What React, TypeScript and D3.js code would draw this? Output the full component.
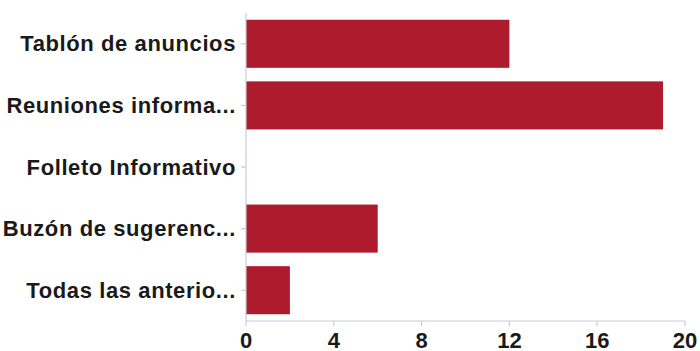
import React from "react";
import * as d3 from "d3";

const categories = [
  "Tablón de anuncios",
  "Reuniones informa...",
  "Folleto Informativo",
  "Buzón de sugerenc...",
  "Todas las anterio...",
];
const values = [12, 19, 0, 6, 2];
const xTicks = [0, 4, 8, 12, 16, 20];

const W = 700;
const H = 351;
const margin = { left: 246, right: 15, top: 13, bottom: 30 };
const barColor = "#ae1b2c";
const axisColor = "#c9c9dc";
const font = "'Liberation Sans', Arial, Helvetica, sans-serif";

export default function App() {
  const x = d3
    .scaleLinear()
    .domain([0, 20])
    .range([margin.left, W - margin.right]);
  const y = d3
    .scaleBand<string>()
    .domain(categories)
    .range([margin.top, H - margin.bottom])
    .paddingInner(0.22)
    .paddingOuter(0.11);
  const axisY = H - margin.bottom;

  return (
    <svg
      width={W}
      height={H}
      style={{ position: "absolute", left: 0, top: 0, background: "#fff" }}
    >
      {categories.map((c, i) => (
        <rect
          key={c}
          x={x(0)}
          y={y(c)!}
          width={x(values[i]) - x(0)}
          height={y.bandwidth()}
          fill={barColor}
        />
      ))}
      {/* y axis */}
      <line x1={x(0)} x2={x(0)} y1={margin.top} y2={axisY} stroke={axisColor} strokeWidth={1.2} />
      {categories.map((c) => {
        const cy = y(c)! + y.bandwidth() / 2;
        return (
          <g key={"l" + c}>
            <line x1={x(0) - 5} x2={x(0)} y1={cy} y2={cy} stroke={axisColor} strokeWidth={1.2} />
            <text
              x={x(0) - 10}
              y={cy}
              textAnchor="end"
              dominantBaseline="central"
              fontFamily={font}
              fontWeight="bold"
              fontSize={22}
              letterSpacing={0.6}
              fill="#1a1a1a"
            >
              {c}
            </text>
          </g>
        );
      })}
      {/* x axis */}
      <line x1={x(0)} x2={x(20)} y1={axisY} y2={axisY} stroke={axisColor} strokeWidth={1.2} />
      {xTicks.map((t) => (
        <g key={"t" + t}>
          <line x1={x(t)} x2={x(t)} y1={axisY} y2={axisY + 5} stroke={axisColor} strokeWidth={1.2} />
          <text
            x={x(t)}
            y={axisY + 19}
            textAnchor="middle"
            dominantBaseline="central"
            fontFamily={font}
            fontWeight="bold"
            fontSize={22}
            fill="#1a1a1a"
          >
            {t}
          </text>
        </g>
      ))}
    </svg>
  );
}
